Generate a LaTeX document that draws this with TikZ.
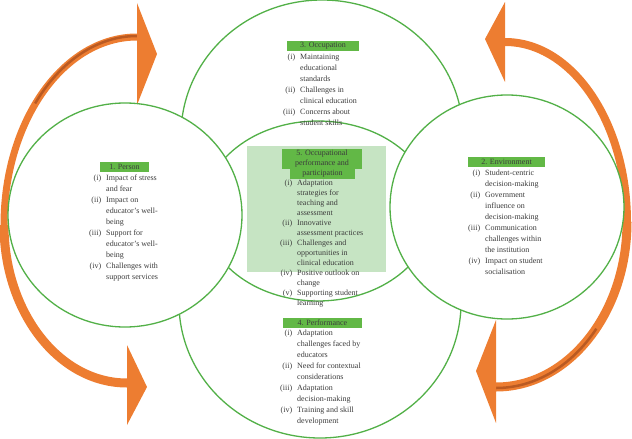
\documentclass[tikz,border=0pt]{standalone}
\usepackage{fontspec}
\setmainfont{Liberation Serif}
\usepackage{xcolor}
\definecolor{ringgreen}{HTML}{52B047}
\definecolor{headgreen}{HTML}{62B846}
\definecolor{panelgreen}{HTML}{C6E4C3}
\definecolor{arroworange}{HTML}{ED7D31}
\definecolor{arrowdark}{HTML}{BA5A22}
\definecolor{bodytext}{HTML}{3C3C3C}
\newcommand{\itm}[1]{\makebox[15pt][r]{#1}\hspace{5pt}}

\begin{document}
\begin{tikzpicture}[x=1pt, y=-1pt,
  ringline/.style={draw=ringgreen, line width=1.3pt, fill=white},
  headbox/.style={fill=headgreen, text=bodytext, inner sep=0pt, minimum height=10pt, font=\fontsize{8}{10}\selectfont},
  itemlist/.style={anchor=north west, align=left, inner sep=0pt, text=bodytext, font=\fontsize{8}{11}\selectfont},
  arcshaft/.style={draw=arroworange, line width=8pt},
  arcshine/.style={draw=arrowdark, line width=2.5pt}]
  \useasboundingbox (0,0) rectangle (632,439);
  % Arrows
  \draw[arcshaft, line width=7pt] (137,37) arc[start angle=270, end angle=180, x radius=133, y radius=188];
  \draw[arcshine] (137,36) arc[start angle=270, end angle=220, x radius=133, y radius=189];
  \draw[arcshaft, line width=9pt] (4,225) arc[start angle=180, end angle=90, x radius=123, y radius=158];
  \draw[arcshaft] (505,42) arc[start angle=270, end angle=360, x radius=122, y radius=180];
  \draw[arcshaft, line width=9pt] (627,222) arc[start angle=0, end angle=90, x radius=131, y radius=165];
  \draw[arcshine] (496,388) arc[start angle=90, end angle=40, x radius=131, y radius=166];
  \fill[arroworange] (137,3) -- (157,54) -- (137,105) -- cycle;
  \fill[arroworange] (127,345) -- (147,387) -- (127,425) -- cycle;
  \fill[arroworange] (505,2) -- (485,39) -- (505,82) -- cycle;
  \fill[arroworange] (496,320) -- (476,371) -- (496,423) -- cycle;
  % Circles
  \draw[ringline] (322,135) ellipse [x radius=141, y radius=135];
  \draw[ringline] (320,303) ellipse [x radius=141, y radius=135];
  \draw[ringline] (318,211) ellipse [x radius=115, y radius=90];
  \fill[panelgreen] (247,146) rectangle (386,272);
  \draw[ringline] (125,215) ellipse [x radius=117, y radius=112];
  \draw[ringline] (507,207) ellipse [x radius=117, y radius=112];
  % Person
  \node[headbox, minimum width=49pt] (personhead) at (124.5,167) {1. Person};
  \node[itemlist] (personlist) at (86,174.5) {\itm{(i)}Impact of stress\\\itm{}and fear\\\itm{(ii)}Impact on\\\itm{}educator's well-\\\itm{}being\\\itm{(iii)}Support for\\\itm{}educator's well-\\\itm{}being\\\itm{(iv)}Challenges with\\\itm{}support services};
  % Occupation
  \node[headbox, minimum width=72pt] (occuhead) at (323,46) {3. Occupation};
  \node[itemlist] (occulist) at (280,53.5) {\itm{(i)}Maintaining\\\itm{}educational\\\itm{}standards\\\itm{(ii)}Challenges in\\\itm{}clinical education\\\itm{(iii)}Concerns about\\\itm{}student skills};
  % Environment
  \node[headbox, minimum width=77pt] (envhead) at (506.5,162) {2. Environment};
  \node[itemlist] (envlist) at (465,169.5) {\itm{(i)}Student-centric\\\itm{}decision-making\\\itm{(ii)}Government\\\itm{}influence on\\\itm{}decision-making\\\itm{(iii)}Communication\\\itm{}challenges within\\\itm{}the institution\\\itm{(iv)}Impact on student\\\itm{}socialisation};
  % Occupational performance and participation
  \node[headbox, minimum width=80pt] (midhead1) at (322,153.5) {5. Occupational};
  \node[headbox, minimum width=80pt] (midhead2) at (322,163.5) {performance and};
  \node[headbox, minimum width=65pt] (midhead3) at (322.5,173.5) {participation};
  \node[itemlist, font=\fontsize{8}{10}\selectfont] (midlist) at (277,179.5) {\itm{(i)}Adaptation\\\itm{}strategies for\\\itm{}teaching and\\\itm{}assessment\\\itm{(ii)}Innovative\\\itm{}assessment practices\\\itm{(iii)}Challenges and\\\itm{}opportunities in\\\itm{}clinical education\\\itm{(iv)}Positive outlook on\\\itm{}change\\\itm{(v)}Supporting student\\\itm{}learning};
  % Performance
  \node[headbox, minimum width=79pt] (perfhead) at (322.5,322.5) {4. Performance};
  \node[itemlist] (perflist) at (277,329.5) {\itm{(i)}Adaptation\\\itm{}challenges faced by\\\itm{}educators\\\itm{(ii)}Need for contextual\\\itm{}considerations\\\itm{(iii)}Adaptation\\\itm{}decision-making\\\itm{(iv)}Training and skill\\\itm{}development};
\end{tikzpicture}
\end{document}
